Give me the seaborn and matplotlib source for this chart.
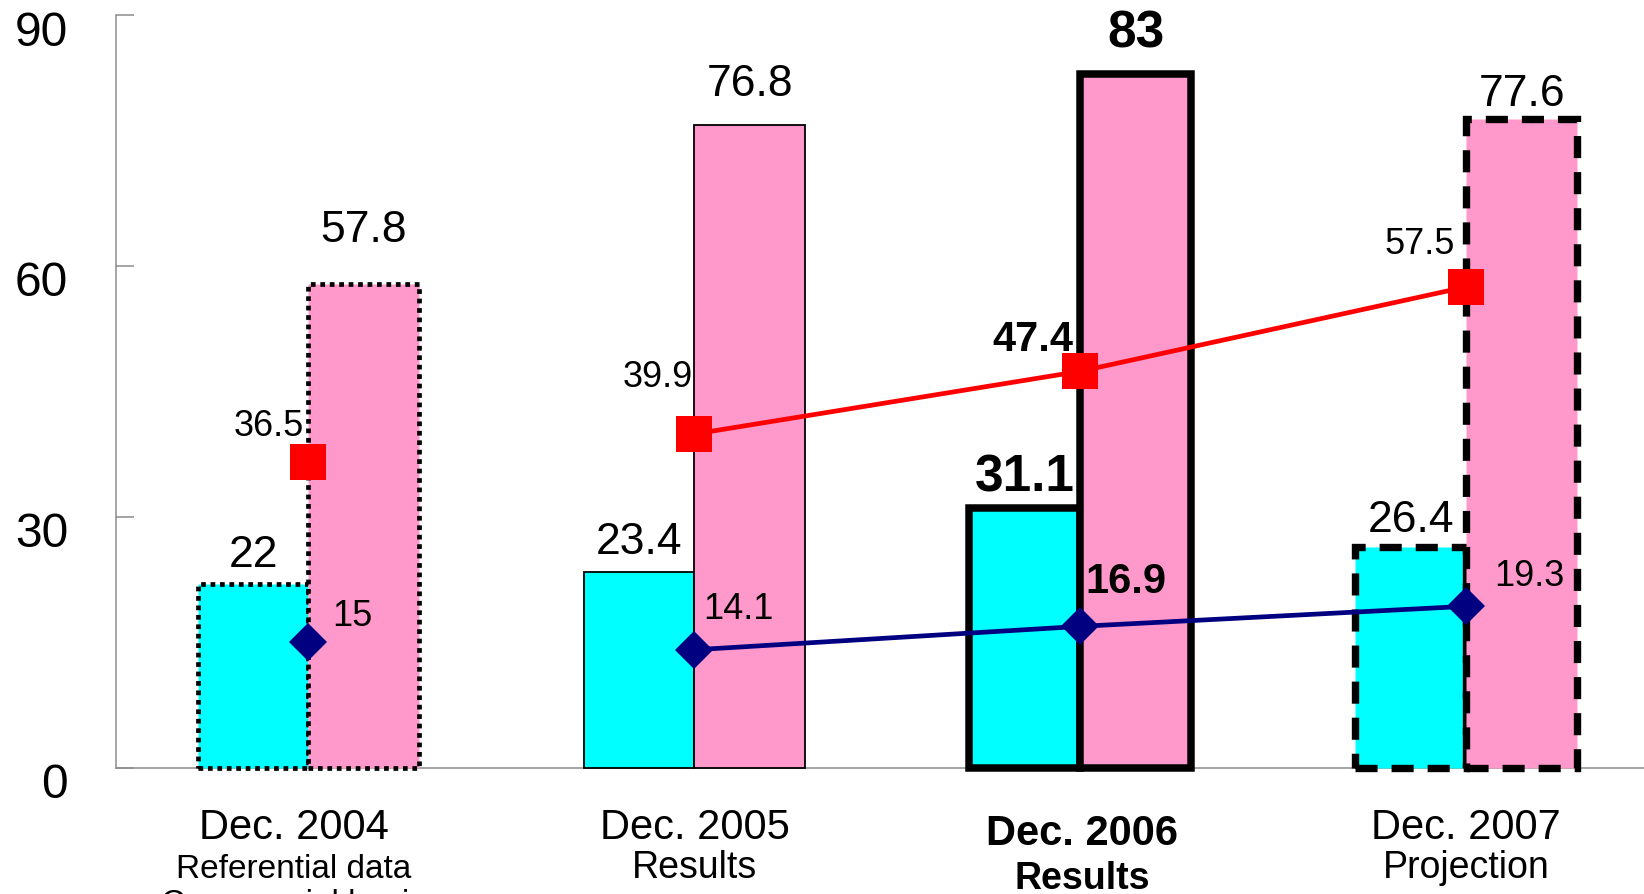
import matplotlib
matplotlib.use("Agg")
import matplotlib.pyplot as plt
import pandas as pd
import seaborn as sns

# ---- data -------------------------------------------------------------
periods = ["Dec. 2004", "Dec. 2005", "Dec. 2006", "Dec. 2007"]
subtitles = ["Referential data", "Results", "Results", "Projection"]
extra_note = "Commercial basis"
highlight = [False, False, True, False]

cyan_vals = [22, 23.4, 31.1, 26.4]
pink_vals = [57.8, 76.8, 83, 77.6]
red_vals = [36.5, 39.9, 47.4, 57.5]
navy_vals = [15, 14.1, 16.9, 19.3]
y_ticks = [0, 30, 60, 90]

# ---- styling ----------------------------------------------------------
CYAN, PINK, RED, NAVY = "#00FFFF", "#FF99CC", "#FF0000", "#000080"
AXIS_GREY = "#8c8c8c"

edge_styles = [
    dict(linestyle=(0, (1, 1)), linewidth=3.4),      # dotted
    dict(linestyle="-", linewidth=1.3),              # thin solid
    dict(linestyle="-", linewidth=5.4),              # heavy solid
    dict(linestyle=(0, (3, 1.9)), linewidth=5.3),    # dashed
]

# label offsets in points (dx, dy) relative to the anchor
cyan_lab_dy = [22.4, 23.8, 24.2, 21.6]
pink_lab_dy = [40.8, 32.0, 31.0, 19.7]
red_lab_off = [(-28.7, 27.9), (-26.4, 42.9), (-34.0, 25.0), (-33.9, 32.3)]
navy_lab_off = [(31.7, 20.8), (31.7, 30.8), (32.4, 34.1), (45.4, 23.5)]
cat_dx = [-10.6, 0.0, 1.4, -0.4]
subtitle_sizes = [24, 27, 27, 27]

sns.set_theme(style="white")
plt.rcParams["font.family"] = ["Liberation Sans", "DejaVu Sans"]
plt.rcParams["text.color"] = "black"

W, H = 1644, 895
fig = plt.figure(figsize=(W / 100, H / 100), dpi=100)
ax = fig.add_axes([115.5 / W, 1 - 768.7 / H, 1 - 115.5 / W, (768.7 - 16) / H])

df = pd.DataFrame({
    "period": periods * 2,
    "series": ["cyan"] * len(periods) + ["pink"] * len(periods),
    "value": cyan_vals + pink_vals,
})
sns.barplot(data=df, x="period", y="value", hue="series", order=periods,
            hue_order=["cyan", "pink"], palette=[CYAN, PINK], saturation=1,
            width=0.575, gap=0, errorbar=None, legend=False, ax=ax)

for cont in ax.containers:
    for i, bar in enumerate(cont):
        bar.set_edgecolor("black")
        bar.set_linewidth(edge_styles[i]["linewidth"])
        bar.set_linestyle(edge_styles[i]["linestyle"])
        bar.set_clip_on(False)

xs = list(range(len(periods)))

# trend lines (the 2004 figure stands alone, unconnected)
for vals, col, mk, ms in [(red_vals, RED, "s", 25.5), (navy_vals, NAVY, "D", 19.5)]:
    sns.lineplot(x=xs[1:], y=vals[1:], color=col, linewidth=3.4, marker=mk,
                 markersize=ms, markeredgewidth=0, ax=ax)
    sns.lineplot(x=xs[:1], y=vals[:1], color=col, linewidth=0, marker=mk,
                 markersize=ms, markeredgewidth=0, ax=ax)


def label(x, y, text, dx, dy, size, bold, ha="center"):
    ax.annotate(text, xy=(x, y), xytext=(dx, dy - 0.05 * size),
                textcoords="offset points", ha=ha, va="center",
                fontsize=size, fontweight="bold" if bold else "normal",
                color="black", annotation_clip=False)


half = 0.575 / 4
for i in xs:
    b = highlight[i]
    label(i - half, cyan_vals[i], f"{cyan_vals[i]:g}", 0, cyan_lab_dy[i], 37 if b else 32, b)
    label(i + half, pink_vals[i], f"{pink_vals[i]:g}", 0, pink_lab_dy[i], 37 if b else 32, b)
    label(i, red_vals[i], f"{red_vals[i]:g}", *red_lab_off[i], 30 if b else 26, b)
    label(i, navy_vals[i], f"{navy_vals[i]:g}", *navy_lab_off[i], 30 if b else 26, b)

# axes
ax.set_xlim(-0.5, 3.46)
ax.set_ylim(0, 90)
ax.set_xlabel("")
ax.set_ylabel("")
ax.set_yticks(y_ticks)
ax.tick_params(axis="y", direction="in", length=13, width=1.1, color=AXIS_GREY,
               left=True, labelleft=False)
ax.tick_params(axis="x", bottom=False, labelbottom=False)
for side in ("top", "right"):
    ax.spines[side].set_visible(False)
for side in ("left", "bottom"):
    ax.spines[side].set_color(AXIS_GREY)
    ax.spines[side].set_linewidth(1.1)
    ax.spines[side].set_zorder(0.5)

for t in y_ticks:
    ax.annotate(str(t), xy=(0, t), xycoords=("axes fraction", "data"),
                xytext=(-34.2, -12.3), textcoords="offset points",
                ha="right", va="center", fontsize=34.5, annotation_clip=False)

for i in xs:
    b = highlight[i]
    w = "bold" if b else "normal"
    ax.annotate(periods[i], xy=(i, 0), xycoords=("data", "axes fraction"),
                xytext=(cat_dx[i], -55.0 if b else -50.4), textcoords="offset points",
                ha="center", va="baseline", fontsize=30, fontweight=w,
                annotation_clip=False)
    ax.annotate(subtitles[i], xy=(i, 0), xycoords=("data", "axes fraction"),
                xytext=(cat_dx[i], -86.6 if b else -79.0), textcoords="offset points",
                ha="center", va="baseline", fontsize=subtitle_sizes[i], fontweight=w,
                annotation_clip=False)
ax.annotate(extra_note, xy=(0, 0), xycoords=("data", "axes fraction"),
            xytext=(cat_dx[0], -104), textcoords="offset points",
            ha="center", va="baseline", fontsize=24, annotation_clip=False)

fig.savefig("out.png", dpi=100)
